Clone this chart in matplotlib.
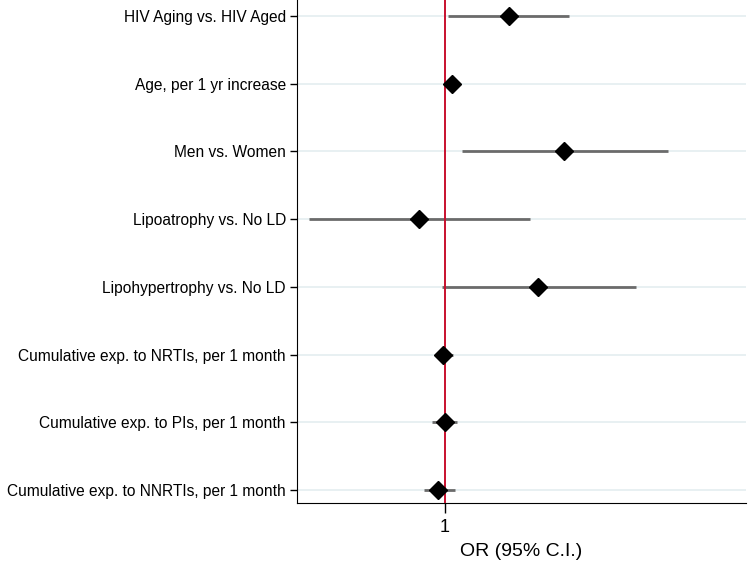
import matplotlib
matplotlib.use('Agg')
import matplotlib.pyplot as plt

labels = ['HIV Aging vs. HIV Aged', 'Age, per 1 yr increase', 'Men vs. Women',
          'Lipoatrophy vs. No LD', 'Lipohypertrophy vs. No LD',
          'Cumulative exp. to NRTIs, per 1 month', 'Cumulative exp. to PIs, per 1 month',
          'Cumulative exp. to NNRTIs, per 1 month']
odds = [1.32, 1.036, 1.595, 0.872, 1.464, 0.992, 1.0, 0.967]
ci_low = [1.017, 1.03, 1.084, 0.322, 0.984, 0.95, 0.937, 0.895]
ci_high = [1.617, 1.045, 2.114, 1.425, 1.954, 1.042, 1.062, 1.05]

plt.rcParams['font.family'] = ['Liberation Sans', 'DejaVu Sans']
fig = plt.figure(figsize=(7.5, 5.61), dpi=100)
ax = fig.add_axes([0.396, 0.1025, 0.599, 0.8975])

ypos = list(range(len(labels)))
for y in ypos:
    ax.axhline(y, color='#e4eef0', lw=1.2, zorder=0)
ax.hlines(ypos, ci_low, ci_high, color='#6b6b6b', lw=2.0, zorder=2)
ax.axvline(1, color='#c8102e', lw=1.4, zorder=3)
ax.plot(odds, ypos, 'D', color='black', markersize=9, zorder=4)

ax.set_xlim(0.26, 2.505)
ax.set_ylim(7.2, -0.236)
ax.set_yticks(ypos)
ax.set_yticklabels(labels, fontsize=11.2)
ax.set_xticks([1])
ax.set_xticklabels(['1'], fontsize=13)
ax.set_xlabel('OR (95% C.I.)', fontsize=14, labelpad=5)
ax.tick_params(axis='y', length=5, width=1, pad=3)
ax.tick_params(axis='x', length=7, width=1, pad=4)
ax.spines['top'].set_visible(False)
ax.spines['right'].set_visible(False)

fig.savefig('out.png', dpi=100)
